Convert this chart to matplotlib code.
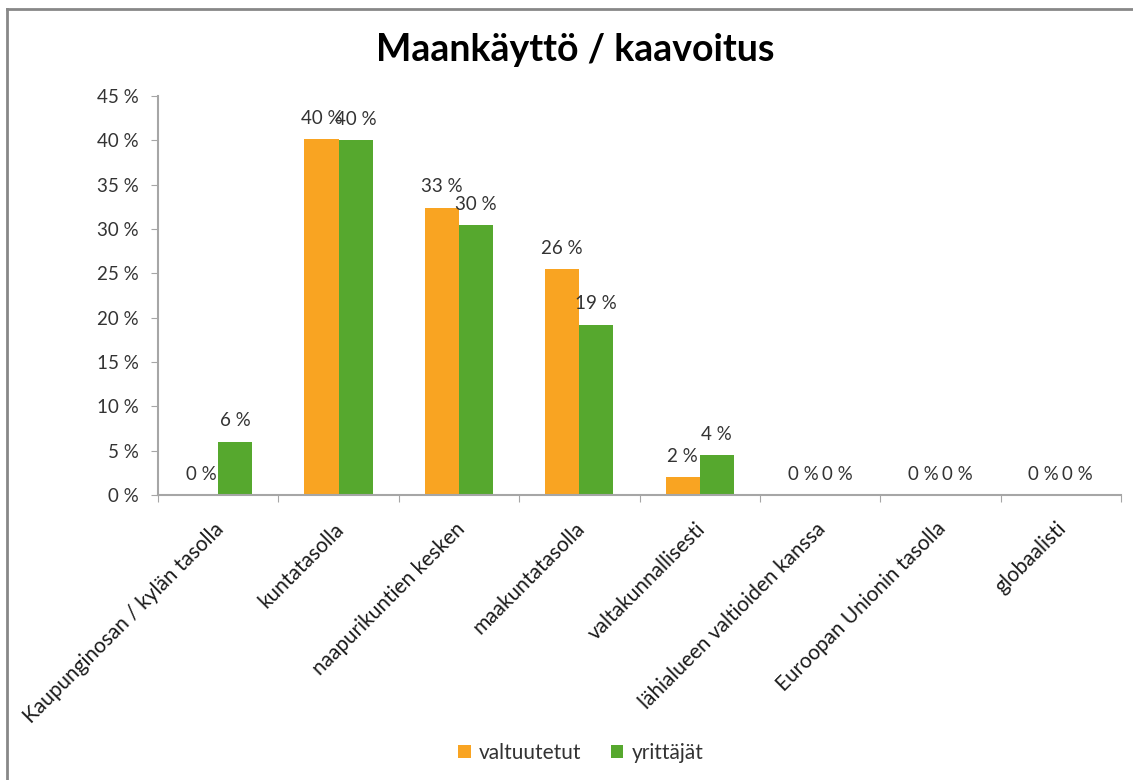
import numpy as np
import matplotlib
matplotlib.use("Agg")
import matplotlib.pyplot as plt
from matplotlib.lines import Line2D
from matplotlib.transforms import ScaledTranslation

plt.rcParams['font.family'] = ['Lato', 'DejaVu Sans']

# data (percent)
categories = ["Kaupunginosan / kylän tasolla", "kuntatasolla", "naapurikuntien kesken",
              "maakuntatasolla", "valtakunnallisesti", "lähialueen valtioiden kanssa",
              "Euroopan Unionin tasolla", "globaalisti"]
valtuutetut = [0.0, 40.1, 32.4, 25.5, 2.0, 0.0, 0.0, 0.0]
yrittajat = [6.0, 40.0, 30.4, 19.2, 4.5, 0.0, 0.0, 0.0]
labels_v = ["0 %", "40 %", "33 %", "26 %", "2 %", "0 %", "0 %", "0 %"]
labels_y = ["6 %", "40 %", "30 %", "19 %", "4 %", "0 %", "0 %", "0 %"]
yticks = [0, 5, 10, 15, 20, 25, 30, 35, 40, 45]

orange = '#F9A422'
green = '#56A82E'
axcol = '#A6A6A6'
txtcol = '#333333'

fig = plt.figure(figsize=(11.33, 7.8), dpi=100)
ax = fig.add_axes([158/1133, 1-495/780, (1121-158)/1133, (495-96)/780])

x = np.arange(len(categories))
w = 0.283
b1 = ax.bar(x - w/2, valtuutetut, w, color=orange, label="valtuutetut")
b2 = ax.bar(x + w/2, yrittajat, w, color=green, label="yrittäjät")

for xi, v, t in zip(x - w/2, valtuutetut, labels_v):
    ax.annotate(t, (xi, v), xytext=(0, 15), textcoords='offset points',
                ha='center', va='center', fontsize=13.5, color=txtcol)
for xi, v, t in zip(x + w/2, yrittajat, labels_y):
    ax.annotate(t, (xi, v), xytext=(0, 15), textcoords='offset points',
                ha='center', va='center', fontsize=13.5, color=txtcol)

ax.set_xlim(-0.5, len(categories) - 0.5)
ax.set_ylim(0, 45)
ax.set_yticks(yticks)
ax.set_yticklabels(["%d %%" % t for t in yticks], fontsize=13.5, color=txtcol)
ax.set_xticks(np.arange(len(categories) + 1) - 0.5)
ax.set_xticklabels([])
ax.set_xticks(x, minor=True)
ax.set_xticklabels(categories, minor=True, rotation=45, ha='right', fontsize=15, color='#1a1a1a')
ax.tick_params(axis='x', which='minor', length=0, pad=17)
ax.tick_params(axis='x', which='major', length=5, color=axcol, direction='out')
ax.tick_params(axis='y', length=5, color=axcol, direction='out', pad=9)
for lab in ax.get_xticklabels(minor=True):
    lab.set_transform(lab.get_transform() + ScaledTranslation(7/72, 0, fig.dpi_scale_trans))

for s in ['top', 'right']:
    ax.spines[s].set_visible(False)
for s in ['left', 'bottom']:
    ax.spines[s].set_color(axcol)
    ax.spines[s].set_linewidth(1.5)

fig.text(575/1133, 1-50/780, "Maankäyttö / kaavoitus", ha='center', va='center',
         fontsize=27, fontweight='bold', color='black')

fig.legend(handles=[b1, b2], loc='center', bbox_to_anchor=(581/1133, 1-753/780), ncol=2,
           frameon=False, fontsize=15, handlelength=0.6, handleheight=0.6,
           handletextpad=0.4, columnspacing=1.4, labelcolor=txtcol)

# outer frame (top and left edges visible in the reference)
fig.add_artist(Line2D([7/1133, 7/1133], [0, 1-9/780], transform=fig.transFigure, color='#888888', lw=2))
fig.add_artist(Line2D([7/1133, 1], [1-9/780, 1-9/780], transform=fig.transFigure, color='#888888', lw=2))

fig.savefig("out.png", dpi=100)
